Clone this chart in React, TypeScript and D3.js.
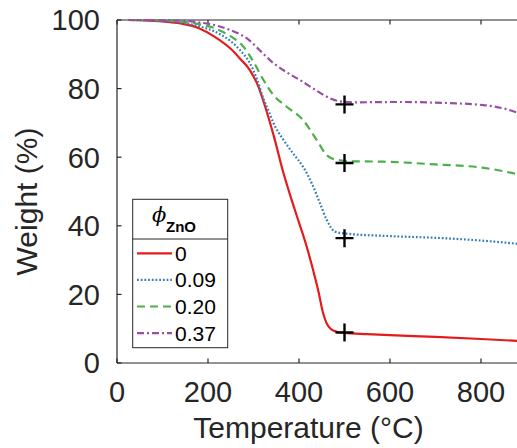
import React from "react";
import * as d3 from "d3";

const seriesLabels = ["0", "0.09", "0.20", "0.37"];
const seriesColors = ["#e41a1c", "#377eb8", "#4daf4a", "#984ea3"];
const seriesDash = ["none", "1.8 1.9", "8 5", "7 3 2 3"];

const tRed = [25, 60, 100, 140, 180, 215, 250, 270, 292, 311, 325, 345, 366, 391, 417, 431, 442, 453, 461, 470, 483, 500, 550, 600, 700, 800, 900];
const wRed = [100, 99.9, 99.6, 99, 97.6, 95.1, 91.6, 88.8, 85.4, 80.5, 75, 66, 55.3, 44.6, 33.9, 27.1, 21.3, 14.5, 11.5, 9.9, 9.1, 8.8, 8.4, 8.1, 7.6, 7, 6.3];

const tBlue = [25, 60, 100, 140, 180, 215, 250, 270, 292, 307, 322, 334, 344, 366, 387, 409, 428, 446, 461, 479, 505, 600, 700, 800, 900];
const wBlue = [100, 99.9, 99.7, 99.2, 98.2, 96.6, 93.8, 91.3, 87.4, 83, 77, 73.2, 69.9, 65, 61.1, 57.2, 52.4, 46.6, 41.7, 38.3, 37.7, 37, 36.5, 35.7, 34.5];

const tGreen = [25, 60, 100, 142, 180, 215, 250, 278, 300, 322, 344, 373, 409, 439, 461, 475, 490, 520, 585, 700, 800, 900];
const wGreen = [100, 100, 99.9, 99.5, 98.8, 97.6, 95.2, 92.2, 87.8, 82.5, 78.1, 74.7, 70.8, 65, 60.6, 59.5, 59.1, 58.8, 58.7, 57.9, 57, 54.5];

const tPurple = [25, 60, 100, 142, 180, 215, 250, 289, 315, 344, 370, 402, 435, 468, 490, 520, 622, 700, 805, 850, 900];
const wPurple = [100, 100, 99.9, 99.8, 99.3, 98.5, 97, 94.3, 91, 87.4, 85, 82.5, 79.7, 77.2, 76.3, 76, 76.1, 75.9, 75.2, 74.2, 72];

const markerT = 500;
const markerW = [8.9, 36.4, 58.3, 75.4];

const xTicks = [0, 200, 400, 600, 800];
const yTicks = [0, 20, 40, 60, 80, 100];

const allT = [tRed, tBlue, tGreen, tPurple];
const allW = [wRed, wBlue, wGreen, wPurple];

export default function App() {
  const W = 517, H = 448;
  const left = 117, top = 20, bottom = 363;
  const x = d3.scaleLinear().domain([0, 900]).range([left, left + 900 * 0.455]);
  const y = d3.scaleLinear().domain([0, 100]).range([bottom, top]);
  const line = d3
    .line<[number, number]>()
    .x((d) => x(d[0]))
    .y((d) => y(d[1]))
    .curve(d3.curveMonotoneX);
  const axisColor = "#262626";
  const font = "'Liberation Sans', Arial, Helvetica, sans-serif";
  const plotRight = x(900);

  return (
    <svg
      width={W}
      height={H}
      style={{ position: "absolute", left: 0, top: 0, background: "#fff" }}
      fontFamily={font}
    >
      <defs>
        <clipPath id="plotclip">
          <rect x={left} y={top - 2} width={plotRight - left} height={bottom - top + 4} />
        </clipPath>
      </defs>
      <rect x={0} y={0} width={W} height={H} fill="#fff" />
      {/* axes */}
      <line x1={left} x2={plotRight} y1={bottom} y2={bottom} stroke={axisColor} strokeWidth={1.2} />
      <line x1={left} x2={plotRight} y1={top} y2={top} stroke={axisColor} strokeWidth={1.2} />
      <line x1={left} x2={left} y1={top} y2={bottom} stroke={axisColor} strokeWidth={1.2} />
      {xTicks.map((t) => (
        <g key={"xt" + t}>
          <line x1={x(t)} x2={x(t)} y1={bottom} y2={bottom - 4.5} stroke={axisColor} strokeWidth={1.2} />
          <line x1={x(t)} x2={x(t)} y1={top} y2={top + 4.5} stroke={axisColor} strokeWidth={1.2} />
          <text x={x(t)} y={402} textAnchor="middle" fontSize={29} fill={axisColor}>
            {t}
          </text>
        </g>
      ))}
      {yTicks.map((t) => (
        <g key={"yt" + t}>
          <line x1={left} x2={left + 4.5} y1={y(t)} y2={y(t)} stroke={axisColor} strokeWidth={1.2} />
          <text x={100} y={y(t)} dy="0.36em" textAnchor="end" fontSize={29} fill={axisColor}>
            {t}
          </text>
        </g>
      ))}
      <text x={308.5} y={438} textAnchor="middle" fontSize={30} fill={axisColor}>
        Temperature (°C)
      </text>
      <text
        transform={`translate(37,201.5) rotate(-90)`}
        textAnchor="middle"
        fontSize={30}
        fill={axisColor}
      >
        Weight (%)
      </text>
      {/* curves */}
      <g clipPath="url(#plotclip)">
        {allT.map((ts, i) => {
          const pts: [number, number][] = ts.map((t, j) => [t, allW[i][j]]);
          return (
            <path
              key={"s" + i}
              d={line(pts) || ""}
              fill="none"
              stroke={seriesColors[i]}
              strokeWidth={2.2}
              strokeDasharray={seriesDash[i]}
            />
          );
        })}
        {markerW.map((w, i) => (
          <g key={"m" + i} stroke="#000" strokeWidth={2.4}>
            <line x1={x(markerT) - 9} x2={x(markerT) + 9} y1={y(w)} y2={y(w)} />
            <line x1={x(markerT)} x2={x(markerT)} y1={y(w) - 9} y2={y(w) + 9} />
          </g>
        ))}
      </g>
      {/* legend */}
      <g>
        <rect x={132.7} y={199.3} width={95} height={148.4} fill="#fff" stroke={axisColor} strokeWidth={1} />
        <line x1={132.7} x2={227.7} y1={239} y2={239} stroke={axisColor} strokeWidth={1} />
        <text x={152} y={222} fontSize={21} fontStyle="italic" fontFamily="'DejaVu Serif', serif" fill="#000">
          ϕ
        </text>
        <text x={166} y={232} fontSize={15} fontWeight="bold" fill="#000">
          ZnO
        </text>
        {seriesLabels.map((lab, i) => {
          const ly = 253.3 + i * 26.6;
          return (
            <g key={"l" + i}>
              <line
                x1={137}
                x2={172}
                y1={ly}
                y2={ly}
                stroke={seriesColors[i]}
                strokeWidth={2.2}
                strokeDasharray={seriesDash[i]}
              />
              <text x={175} y={ly + 7.5} fontSize={21} fill="#000">
                {lab}
              </text>
            </g>
          );
        })}
      </g>
    </svg>
  );
}
